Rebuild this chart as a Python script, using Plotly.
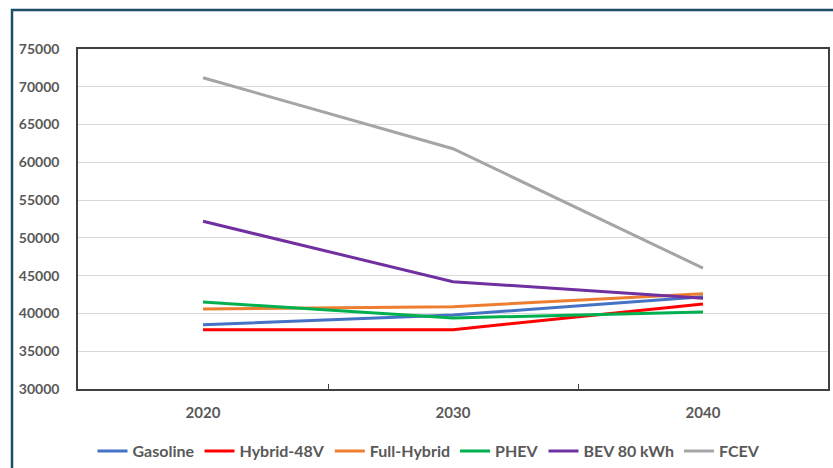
import plotly.graph_objects as go

years = ["2020", "2030", "2040"]
gasoline = [38500, 39800, 42200]
hybrid_48v = [37850, 37850, 41250]
full_hybrid = [40600, 40900, 42600]
phev = [41500, 39400, 40200]
bev_80 = [52200, 44200, 42000]
fcev = [71200, 61800, 46000]

series = [
    ("Gasoline", gasoline, "#4472C4"),
    ("Hybrid-48V", hybrid_48v, "#FF0000"),
    ("Full-Hybrid", full_hybrid, "#ED7D31"),
    ("PHEV", phev, "#00B050"),
    ("BEV 80 kWh", bev_80, "#7030A0"),
    ("FCEV", fcev, "#A5A5A5"),
]

fig = go.Figure()
for name, vals, color in series:
    fig.add_trace(go.Scatter(x=years, y=vals, name=name, mode="lines",
                             line=dict(color=color, width=3)))

font_fam = "Lato"
T, B = 49, 79
ph = 468 - T - B
fig.update_layout(
    width=833, height=468,
    margin=dict(l=78, r=5, t=T, b=B, autoexpand=False),
    paper_bgcolor="white", plot_bgcolor="white",
    font=dict(family=font_fam, color="#595959"),
    legend=dict(orientation="h", x=0.468, xanchor="center", y=-(451 - (468 - B)) / ph,
                yanchor="middle", bgcolor="rgba(0,0,0,0)",
                font=dict(family=font_fam, size=16, color="#595959", weight="bold"),
                itemwidth=30, tracegroupgap=0),
    showlegend=True,
)
fig.update_xaxes(type="category", range=[-0.5, 2.5], showgrid=False, showline=True,
                 linecolor="#404040", linewidth=1.5, mirror=True, ticks="inside", ticklen=5,
                 tickcolor="#404040", tickson="boundaries", ticklabelstandoff=9,
                 automargin=False,
                 tickfont=dict(family=font_fam, size=15, color="#595959", weight="bold"))
fig.update_yaxes(range=[30000, 75000], dtick=5000, tickformat="d", showgrid=True,
                 gridcolor="#D9D9D9", gridwidth=1, showline=True, linecolor="#404040",
                 linewidth=1.5, mirror=True, ticks="", ticklabelstandoff=14, zeroline=False,
                 automargin=False,
                 tickfont=dict(family=font_fam, size=14, color="#595959", weight="bold"))

fig.add_shape(type="rect", xref="paper", yref="paper",
              x0=(12 - 78) / 750, x1=1.2, y0=-0.6, y1=1 + (T - 10) / ph,
              line=dict(color="#1F4E6B", width=2.5), fillcolor="rgba(0,0,0,0)", layer="above")

fig.write_html("out.html", config={"displayModeBar": False},
               post_script="document.body.style.margin='0';document.body.style.overflow='hidden';")
